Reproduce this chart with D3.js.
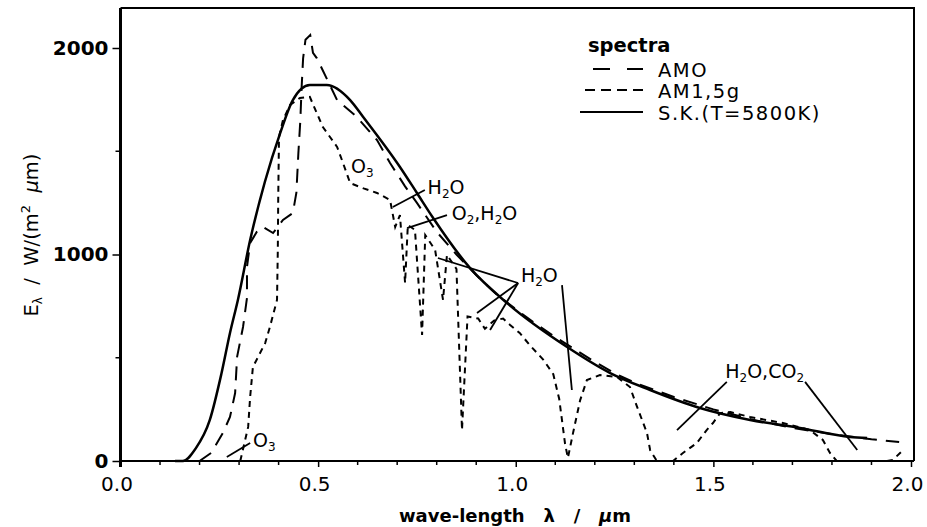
<!DOCTYPE html>
<html><head><meta charset="utf-8">
<script src="https://cdn.jsdelivr.net/npm/d3@7"></script>
<style>body{margin:0;background:#fff}svg{display:block}</style>
</head><body><svg id="c" width="927" height="527"></svg>
<script>
// ---- data ----
const xTicks = [0.0, 0.5, 1.0, 1.5, 2.0];
const xTickLabels = ["0.0", "0.5", "1.0", "1.5", "2.0"];
const yTicks = [0, 1000, 2000];
const yTickLabels = ["0", "1000", "2000"];
const seriesNames = ["AMO", "AM1,5g", "S.K.(T=5800K)"];

// blackbody (solid)
const skLambda = [0.138,0.158,0.190,0.226,0.255,0.277,0.297,0.328,0.365,0.404,0.436,0.479,0.522,0.581,0.614,0.707,0.750,0.791,0.884,0.978,1.130,1.239,1.340,1.466,1.593,1.719,1.846,1.889];
const skE      = [0,0,60,199,420,620,780,1070,1350,1588,1748,1821,1821,1748,1666,1424,1298,1177,935,765,552,426,344,257,199,160,116,111];

// AM0 (long dash)
const am0Lambda = [0.200,0.230,0.259,0.277,0.290,0.295,0.310,0.320,0.320,0.328,0.345,0.361,0.386,0.411,0.436,0.445,0.450,0.455,0.458,0.462,0.468,0.480,0.487,0.497,0.548,0.598,0.649,0.682,0.72,0.75,0.80,0.85,0.90,0.95,1.00,1.05,1.10,1.15,1.20,1.25,1.30,1.35,1.40,1.50,1.60,1.70,1.80,1.90,1.97];
const am0E      = [0,40,136,213,329,504,649,789,939,1056,1110,1133,1104,1167,1201,1300,1490,1650,1800,1950,2040,2063,1976,1950,1748,1666,1554,1443,1330,1250,1110,1000,900,810,735,665,600,540,480,425,380,345,310,250,200,160,130,105,92];

// AM1.5g (short dash)
const am15Lambda = [0.303,0.323,0.328,0.335,0.348,0.366,0.378,0.396,0.398,0.399,0.401,0.411,0.429,0.454,0.479,0.512,0.548,0.563,0.581,0.615,0.649,0.682,0.695,0.707,0.720,0.727,0.745,0.763,0.771,0.796,0.816,0.826,0.850,0.864,0.878,0.905,0.922,0.945,0.968,0.985,1.010,1.036,1.070,1.095,1.110,1.125,1.132,1.145,1.163,1.180,1.213,1.256,1.289,1.307,1.332,1.340,1.357,1.398,1.423,1.458,1.483,1.499,1.517,1.543,1.593,1.676,1.744,1.777,1.795,1.812,1.939,1.954,1.980];
const am15E      = [0,165,310,455,504,571,649,780,1022,1264,1569,1651,1724,1758,1763,1617,1521,1443,1346,1320,1298,1264,1133,1191,862,1143,1119,610,1094,1022,780,998,930,150,700,690,640,680,690,660,620,560,490,420,300,80,15,136,295,392,416,407,358,262,136,53,0,0,39,87,150,184,232,237,213,184,150,102,39,0,0,5,53];

// annotation leaders [l1,E1,l2,E2]
const leaders = [
  [0.269,19,0.328,87],
  [0.689,1230,0.770,1312],
  [0.725,1128,0.826,1191],
  [0.803,983,1.006,862],
  [0.902,717,1.006,862],
  [0.935,634,1.006,862],
  [1.117,852,1.142,344],
  [1.534,383,1.408,150],
  [1.732,383,1.864,53]
];
// annotation labels: [text parts, lambda, E]  (parts: [string, isSubscript])
const labels = [
  [[["O",0],["3",1]], 0.583, 1395],
  [[["H",0],["2",1],["O",0]], 0.777, 1295],
  [[["O",0],["2",1],[",H",0],["2",1],["O",0]], 0.838, 1165],
  [[["H",0],["2",1],["O",0]], 1.013, 868],
  [[["H",0],["2",1],["O,CO",0],["2",1]], 1.530, 403],
  [[["O",0],["3",1]], 0.335, 70]
];

// ---- layout ----
const svg = d3.select("#c");
const x = d3.scaleLinear().domain([0, 2]).range([120.5, 911]);
const y = d3.scaleLinear().domain([0, 2000]).range([461, 48]);
const frameTop = 8, frameRight = 914;
const font = "'DejaVu Sans', sans-serif";

// frame
svg.append("path")
  .attr("d", `M${x(0)},${frameTop}H${frameRight}V${y(0)}`)
  .attr("fill","none").attr("stroke","#000").attr("stroke-width",2);

// axes
const xAxis = d3.axisBottom(x).tickValues(xTicks).tickFormat((d,i)=>xTickLabels[i]).tickSize(6).tickSizeOuter(0);
const gx = svg.append("g").attr("transform",`translate(0,${y(0)})`).call(xAxis);
gx.select(".domain").attr("stroke-width",2).attr("d",`M${x(0)},0H${frameRight}`);
gx.selectAll(".tick line").attr("stroke-width",1.5);
gx.selectAll("text").attr("font-family",font).attr("font-size",20).attr("y",16).attr("dy","0.72em").attr("dx",-4).attr("fill","#000");
const xMinor = d3.range(1,20).filter(i=>i%5!==0).map(i=>i/10);
svg.append("g").selectAll("line").data(xMinor).join("line")
  .attr("x1",d=>x(d)).attr("x2",d=>x(d)).attr("y1",y(0)).attr("y2",y(0)+4)
  .attr("stroke","#000").attr("stroke-width",1.5);

const yAxis = d3.axisLeft(y).tickValues(yTicks).tickFormat((d,i)=>yTickLabels[i]).tickSize(8).tickSizeOuter(0);
const gy = svg.append("g").attr("transform",`translate(${x(0)},0)`).call(yAxis);
gy.select(".domain").attr("stroke-width",3).attr("d",`M0,${frameTop}V${y(0)+6}`);
gy.selectAll(".tick line").attr("stroke-width",1.5);
gy.selectAll("text").attr("font-family",font).attr("font-size",20).attr("font-weight","bold").attr("x",-12).attr("fill","#000");
svg.append("g").selectAll("line").data([500,1500]).join("line")
  .attr("x1",x(0)-5).attr("x2",x(0)).attr("y1",d=>y(d)).attr("y2",d=>y(d))
  .attr("stroke","#000").attr("stroke-width",1.5);

// axis titles
const xt = svg.append("text").attr("x",515).attr("y",522).attr("text-anchor","middle")
  .attr("font-family",font).attr("font-size",18).attr("font-weight","bold").attr("fill","#000")
  .attr("xml:space","preserve").style("white-space","pre");
xt.append("tspan").text("wave-length   λ   /   ");
xt.append("tspan").attr("font-style","italic").text("µ");
xt.append("tspan").text("m");

const yt = svg.append("text").attr("transform","translate(38,235) rotate(-90)").attr("text-anchor","middle")
  .attr("font-family",font).attr("font-size",19.5).attr("fill","#000").style("white-space","pre");
yt.append("tspan").text("E");
yt.append("tspan").attr("font-size",12).attr("dy",4).text("λ");
yt.append("tspan").attr("dy",-4).text("  /  W/(m");
yt.append("tspan").attr("font-size",13).attr("dy",-8).text("2");
yt.append("tspan").attr("dy",8).text("  ");
yt.append("tspan").attr("font-style","italic").text("µ");
yt.append("tspan").text("m)");

// curves
const line = d3.line().x(d=>x(d[0])).y(d=>y(d[1])).curve(d3.curveLinear);
const zip = (a,b)=>a.map((v,i)=>[v,b[i]]);
svg.append("path").datum(zip(am15Lambda,am15E)).attr("d",line)
  .attr("fill","none").attr("stroke","#000").attr("stroke-width",2).attr("stroke-dasharray","6,5");
svg.append("path").datum(zip(am0Lambda,am0E)).attr("d",line)
  .attr("fill","none").attr("stroke","#000").attr("stroke-width",2).attr("stroke-dasharray","14,9");
svg.append("path").datum(zip(skLambda,skE)).attr("d",line.curve(d3.curveMonotoneX))
  .attr("fill","none").attr("stroke","#000").attr("stroke-width",2.5);

// leaders
svg.append("g").selectAll("line").data(leaders).join("line")
  .attr("x1",d=>x(d[0])).attr("y1",d=>y(d[1])).attr("x2",d=>x(d[2])).attr("y2",d=>y(d[3]))
  .attr("stroke","#000").attr("stroke-width",1.8);

// labels
labels.forEach(([parts,l,e])=>{
  const t = svg.append("text").attr("x",x(l)).attr("y",y(e)).attr("font-family",font)
    .attr("font-size",19).attr("fill","#000");
  let sub=false;
  parts.forEach(([s,isSub])=>{
    const ts = t.append("tspan").text(s);
    if(isSub && !sub){ts.attr("font-size",12).attr("dy",4);sub=true;}
    else if(!isSub && sub){ts.attr("dy",-4);sub=false;}
    else if(isSub){ts.attr("font-size",12);}
  });
});

// legend
const lg = svg.append("g").attr("font-family",font).attr("fill","#000");
lg.append("text").attr("x",588).attr("y",52).attr("font-size",19.5).attr("font-weight","bold").text("spectra");
const legY = [69, 90, 112];
const dashes = ["17,17", "10,6", null];
const legX1 = [593, 585, 580];
seriesNames.forEach((n,i)=>{
  const ln = lg.append("line").attr("x1",legX1[i]).attr("x2",643).attr("y1",legY[i]).attr("y2",legY[i])
    .attr("stroke","#000").attr("stroke-width",2.2);
  if(dashes[i]) ln.attr("stroke-dasharray",dashes[i]);
  lg.append("text").attr("x",658).attr("y",legY[i]+8).attr("font-size",19.5).attr("letter-spacing",1.5).text(n);
});
</script></body></html>
